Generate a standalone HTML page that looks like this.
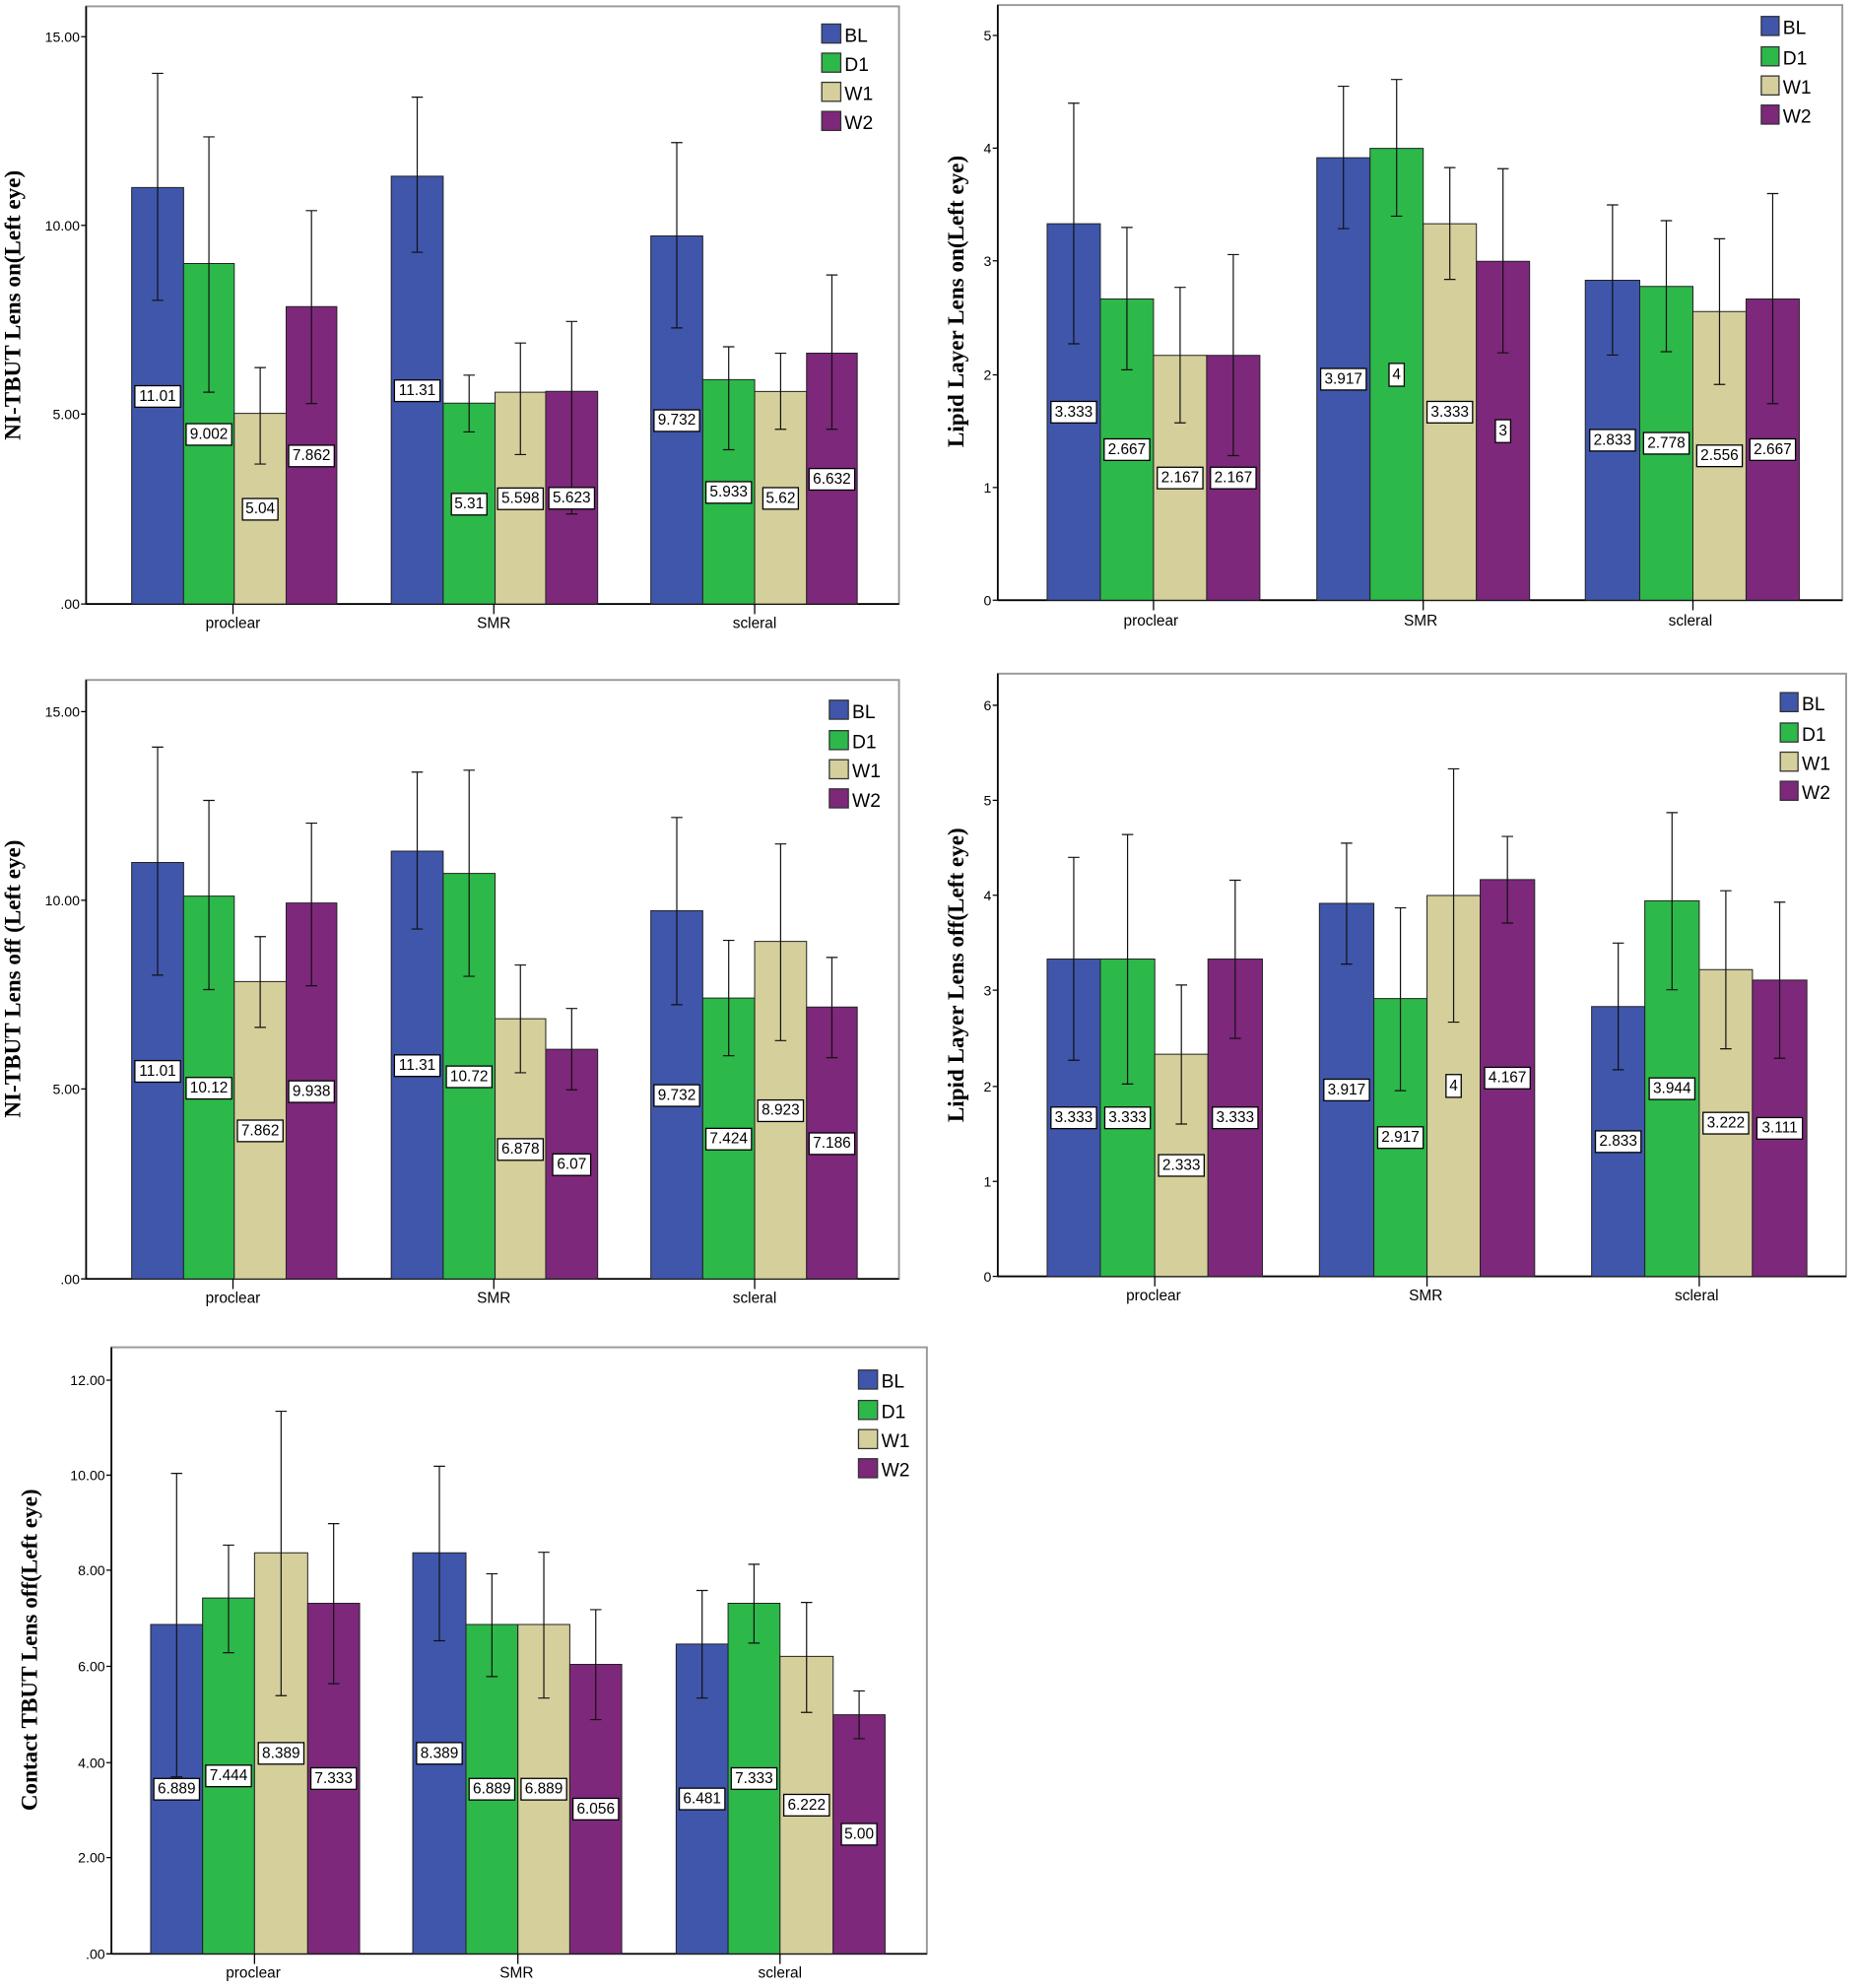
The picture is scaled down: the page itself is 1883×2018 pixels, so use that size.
<!DOCTYPE html>
<html><head><meta charset="utf-8"><style>
html,body{margin:0;padding:0;background:#fff}
svg{display:block}
.t{font-family:"Liberation Sans",sans-serif;font-size:11px;fill:#000}
.c{font-family:"Liberation Sans",sans-serif;font-size:12px;fill:#000;text-anchor:middle}
.lg{font-family:"Liberation Sans",sans-serif;font-size:15px;fill:#000}
.v{font-family:"Liberation Sans",sans-serif;font-size:12px;fill:#000;text-anchor:middle;dominant-baseline:central}
.yt{font-family:"Liberation Serif",serif;font-size:18px;font-weight:bold;fill:#000;text-anchor:middle}
.b1{fill:#3f56ab}.b2{fill:#2db84a}.b3{fill:#d5cf9b}.b4{fill:#7d287b}
.bars rect{stroke:#222;stroke-width:1;vector-effect:non-scaling-stroke}
.eb{stroke:#111;stroke-width:1.2;fill:none;vector-effect:non-scaling-stroke}
.lb{fill:#fff;stroke:#000;stroke-width:1}
.fr{fill:none;stroke:#999;stroke-width:1.5}
.ax{stroke:#000;stroke-width:1.3}
</style></head><body>
<svg width="1883" height="2018" viewBox="0 0 1465 1570" preserveAspectRatio="none" xmlns="http://www.w3.org/2000/svg">

<!-- CHART 1 -->
<rect class="fr" x="68" y="5" width="642" height="472"/>
<line class="ax" x1="68" y1="5" x2="68" y2="477"/><line class="ax" x1="68" y1="477" x2="710" y2="477"/>
<g class="t" text-anchor="end"><text x="63" y="33">15.00</text><text x="63" y="182">10.00</text><text x="63" y="331">5.00</text><text x="63" y="481">.00</text></g>
<path d="M64 29H68M64 178H68M64 327H68M64 477H68" stroke="#000"/>
<g class="bars" transform="translate(0,477) scale(1,-29.87)">
<rect class="b1" x="104" y="0" width="41" height="11.01"/><rect class="b2" x="145" y="0" width="40" height="9.002"/><rect class="b3" x="185" y="0" width="41" height="5.04"/><rect class="b4" x="226" y="0" width="40" height="7.862"/>
<rect class="b1" x="309" y="0" width="41" height="11.31"/><rect class="b2" x="350" y="0" width="41" height="5.31"/><rect class="b3" x="391" y="0" width="40" height="5.598"/><rect class="b4" x="431" y="0" width="41" height="5.623"/>
<rect class="b1" x="514" y="0" width="41" height="9.732"/><rect class="b2" x="555" y="0" width="41" height="5.933"/><rect class="b3" x="596" y="0" width="41" height="5.62"/><rect class="b4" x="637" y="0" width="40" height="6.632"/>
<path class="eb" d="M124.5 8.03V14.03M120 14.03H129M120 8.03H129 M165 5.6V12.35M160.5 12.35H169.5M160.5 5.6H169.5 M205.5 3.7V6.25M201 6.25H210M201 3.7H210 M246 5.3V10.4M241.5 10.4H250.5M241.5 5.3H250.5
M329.5 9.3V13.4M325 13.4H334M325 9.3H334 M370.5 4.55V6.05M366 6.05H375M366 4.55H375 M411 3.95V6.9M406.5 6.9H415.5M406.5 3.95H415.5 M451.5 2.38V7.47M447 7.47H456M447 2.38H456
M534.5 7.3V12.2M530 12.2H539M530 7.3H539 M575.5 4.08V6.8M571 6.8H580M571 4.08H580 M616.5 4.62V6.63M612 6.63H621M612 4.62H621 M657 4.62V8.7M652.5 8.7H661.5M652.5 4.62H661.5"/>
</g>
<path d="M184 477V485M390 477V485M596 477V485" stroke="#000"/>
<g class="c"><text x="184" y="496">proclear</text><text x="390" y="496">SMR</text><text x="596" y="496">scleral</text></g>
<g><rect class="lb" x="106.5" y="304.6" width="36" height="17"/><text class="v" x="124.5" y="313">11.01</text>
<rect class="lb" x="147" y="334.6" width="36" height="17"/><text class="v" x="165" y="343">9.002</text>
<rect class="lb" x="191.5" y="393.7" width="28" height="17"/><text class="v" x="205.5" y="402">5.04</text>
<rect class="lb" x="228" y="351.6" width="36" height="17"/><text class="v" x="246" y="360">7.862</text>
<rect class="lb" x="311.5" y="300.1" width="36" height="17"/><text class="v" x="329.5" y="308.5">11.31</text>
<rect class="lb" x="356.5" y="389.7" width="28" height="17"/><text class="v" x="370.5" y="398">5.31</text>
<rect class="lb" x="393" y="385.4" width="36" height="17"/><text class="v" x="411" y="393.8">5.598</text>
<rect class="lb" x="433.5" y="385" width="36" height="17"/><text class="v" x="451.5" y="393.4">5.623</text>
<rect class="lb" x="516.5" y="323.7" width="36" height="17"/><text class="v" x="534.5" y="332">9.732</text>
<rect class="lb" x="557.5" y="380.4" width="36" height="17"/><text class="v" x="575.5" y="388.8">5.933</text>
<rect class="lb" x="602.5" y="385.1" width="28" height="17"/><text class="v" x="616.5" y="393.5">5.62</text>
<rect class="lb" x="639" y="370" width="36" height="17"/><text class="v" x="657" y="378.4">6.632</text></g>
<g stroke="#333"><rect class="b1" x="649" y="19" width="15" height="15"/><rect class="b2" x="649" y="42" width="15" height="15"/><rect class="b3" x="649" y="65" width="15" height="15"/><rect class="b4" x="649" y="88" width="15" height="15"/></g>
<g class="lg"><text x="667" y="33">BL</text><text x="667" y="56">D1</text><text x="667" y="79">W1</text><text x="667" y="102">W2</text></g>
<text class="yt" transform="translate(16,241) rotate(-90)">NI-TBUT Lens on(Left eye)</text>

<!-- CHART 2 -->
<rect class="fr" x="788" y="4" width="667" height="470"/>
<line class="ax" x1="788" y1="4" x2="788" y2="474"/><line class="ax" x1="788" y1="474" x2="1455" y2="474"/>
<g class="t" text-anchor="end"><text x="783" y="32">5</text><text x="783" y="121">4</text><text x="783" y="210">3</text><text x="783" y="300">2</text><text x="783" y="389">1</text><text x="783" y="478">0</text></g>
<path d="M784 28H788M784 117H788M784 206H788M784 296H788M784 385H788M784 474H788" stroke="#000"/>
<g class="bars" transform="translate(0,474) scale(1,-89.2)">
<rect class="b1" x="827" y="0" width="42" height="3.333"/><rect class="b2" x="869" y="0" width="42" height="2.667"/><rect class="b3" x="911" y="0" width="42" height="2.167"/><rect class="b4" x="953" y="0" width="42" height="2.167"/>
<rect class="b1" x="1040" y="0" width="42" height="3.917"/><rect class="b2" x="1082" y="0" width="42" height="4"/><rect class="b3" x="1124" y="0" width="42" height="3.333"/><rect class="b4" x="1166" y="0" width="42" height="3"/>
<rect class="b1" x="1252" y="0" width="43" height="2.833"/><rect class="b2" x="1295" y="0" width="42" height="2.778"/><rect class="b3" x="1337" y="0" width="42" height="2.556"/><rect class="b4" x="1379" y="0" width="42" height="2.667"/>
<path class="eb" d="M848 2.27V4.40M843.5 4.40H852.5M843.5 2.27H852.5 M890 2.04V3.30M885.5 3.30H894.5M885.5 2.04H894.5 M932 1.57V2.77M927.5 2.77H936.5M927.5 1.57H936.5 M974 1.28V3.06M969.5 3.06H978.5M969.5 1.28H978.5
M1061 3.29V4.55M1056.5 4.55H1065.5M1056.5 3.29H1065.5 M1103 3.40V4.61M1098.5 4.61H1107.5M1098.5 3.40H1107.5 M1145 2.84V3.83M1140.5 3.83H1149.5M1140.5 2.84H1149.5 M1187 2.19V3.82M1182.5 3.82H1191.5M1182.5 2.19H1191.5
M1273.5 2.17V3.50M1269 3.50H1278M1269 2.17H1278 M1316 2.20V3.36M1311.5 3.36H1320.5M1311.5 2.20H1320.5 M1358 1.91V3.20M1353.5 3.20H1362.5M1353.5 1.91H1362.5 M1400 1.74V3.60M1395.5 3.60H1404.5M1395.5 1.74H1404.5"/>
</g>
<path d="M911 474V482M1124 474V482M1337 474V482" stroke="#000"/>
<g class="c"><text x="909" y="494">proclear</text><text x="1122" y="494">SMR</text><text x="1335" y="494">scleral</text></g>
<g><rect class="lb" x="830" y="317" width="36" height="17"/><text class="v" x="848" y="325.5">3.333</text>
<rect class="lb" x="872" y="346.6" width="36" height="17"/><text class="v" x="890" y="355">2.667</text>
<rect class="lb" x="914" y="369" width="36" height="17"/><text class="v" x="932" y="377.4">2.167</text>
<rect class="lb" x="956" y="369" width="36" height="17"/><text class="v" x="974" y="377.4">2.167</text>
<rect class="lb" x="1043" y="291" width="36" height="17"/><text class="v" x="1061" y="299.4">3.917</text>
<rect class="lb" x="1097" y="287" width="12" height="18"/><text class="v" x="1103" y="296">4</text>
<rect class="lb" x="1127" y="317" width="36" height="17"/><text class="v" x="1145" y="325.5">3.333</text>
<rect class="lb" x="1181" y="331.5" width="12" height="18"/><text class="v" x="1187" y="340.5">3</text>
<rect class="lb" x="1255.5" y="339.2" width="36" height="17"/><text class="v" x="1273.5" y="347.6">2.833</text>
<rect class="lb" x="1298" y="341.6" width="36" height="17"/><text class="v" x="1316" y="350">2.778</text>
<rect class="lb" x="1340" y="351.5" width="36" height="17"/><text class="v" x="1358" y="360">2.556</text>
<rect class="lb" x="1382" y="346.6" width="36" height="17"/><text class="v" x="1400" y="355">2.667</text></g>
<g stroke="#333"><rect class="b1" x="1391" y="13" width="14" height="15"/><rect class="b2" x="1391" y="37" width="14" height="15"/><rect class="b3" x="1391" y="60" width="14" height="15"/><rect class="b4" x="1391" y="83" width="14" height="15"/></g>
<g class="lg"><text x="1408" y="27">BL</text><text x="1408" y="51">D1</text><text x="1408" y="74">W1</text><text x="1408" y="97">W2</text></g>
<text class="yt" transform="translate(761,238) rotate(-90)">Lipid Layer Lens on(Left eye)</text>

<!-- CHART 3 -->
<rect class="fr" x="68" y="537" width="642" height="473"/>
<line class="ax" x1="68" y1="537" x2="68" y2="1010"/><line class="ax" x1="68" y1="1010" x2="710" y2="1010"/>
<g class="t" text-anchor="end"><text x="63" y="566">15.00</text><text x="63" y="715">10.00</text><text x="63" y="864">5.00</text><text x="63" y="1014">.00</text></g>
<path d="M64 562H68M64 711H68M64 860H68M64 1010H68" stroke="#000"/>
<g class="bars" transform="translate(0,1010) scale(1,-29.87)">
<rect class="b1" x="104" y="0" width="41" height="11.01"/><rect class="b2" x="145" y="0" width="40" height="10.12"/><rect class="b3" x="185" y="0" width="41" height="7.862"/><rect class="b4" x="226" y="0" width="40" height="9.938"/>
<rect class="b1" x="309" y="0" width="41" height="11.31"/><rect class="b2" x="350" y="0" width="41" height="10.72"/><rect class="b3" x="391" y="0" width="40" height="6.878"/><rect class="b4" x="431" y="0" width="41" height="6.07"/>
<rect class="b1" x="514" y="0" width="41" height="9.732"/><rect class="b2" x="555" y="0" width="41" height="7.424"/><rect class="b3" x="596" y="0" width="41" height="8.923"/><rect class="b4" x="637" y="0" width="40" height="7.186"/>
<path class="eb" d="M124.5 8.03V14.06M120 14.06H129M120 8.03H129 M165 7.65V12.65M160.5 12.65H169.5M160.5 7.65H169.5 M205.5 6.65V9.05M201 9.05H210M201 6.65H210 M246 7.75V12.05M241.5 12.05H250.5M241.5 7.75H250.5
M329.5 9.25V13.4M325 13.4H334M325 9.25H334 M370.5 8.0V13.45M366 13.45H375M366 8.0H375 M411 5.45V8.3M406.5 8.3H415.5M406.5 5.45H415.5 M451.5 5.0V7.15M447 7.15H456M447 5.0H456
M534.5 7.25V12.2M530 12.2H539M530 7.25H539 M575.5 5.9V8.95M571 8.95H580M571 5.9H580 M616.5 6.3V11.5M612 11.5H621M612 6.3H621 M657 5.85V8.5M652.5 8.5H661.5M652.5 5.85H661.5"/>
</g>
<path d="M184 1010V1018M390 1010V1018M596 1010V1018" stroke="#000"/>
<g class="c"><text x="184" y="1029">proclear</text><text x="390" y="1029">SMR</text><text x="596" y="1029">scleral</text></g>
<g><rect class="lb" x="106.5" y="837.6" width="36" height="17"/><text class="v" x="124.5" y="846">11.01</text>
<rect class="lb" x="147" y="850.9" width="36" height="17"/><text class="v" x="165" y="859.3">10.12</text>
<rect class="lb" x="187.5" y="884.6" width="36" height="17"/><text class="v" x="205.5" y="893">7.862</text>
<rect class="lb" x="228" y="853.6" width="36" height="17"/><text class="v" x="246" y="862">9.938</text>
<rect class="lb" x="311.5" y="833.1" width="36" height="17"/><text class="v" x="329.5" y="841.5">11.31</text>
<rect class="lb" x="352.5" y="841.9" width="36" height="17"/><text class="v" x="370.5" y="850.3">10.72</text>
<rect class="lb" x="393" y="899.3" width="36" height="17"/><text class="v" x="411" y="907.7">6.878</text>
<rect class="lb" x="436.5" y="911.3" width="30" height="17"/><text class="v" x="451.5" y="919.7">6.07</text>
<rect class="lb" x="516.5" y="856.7" width="36" height="17"/><text class="v" x="534.5" y="865">9.732</text>
<rect class="lb" x="557.5" y="891.1" width="36" height="17"/><text class="v" x="575.5" y="899.5">7.424</text>
<rect class="lb" x="598.5" y="868.7" width="36" height="17"/><text class="v" x="616.5" y="877">8.923</text>
<rect class="lb" x="639" y="894.7" width="36" height="17"/><text class="v" x="657" y="903">7.186</text></g>
<g stroke="#333"><rect class="b1" x="655" y="553" width="15" height="15"/><rect class="b2" x="655" y="577" width="15" height="15"/><rect class="b3" x="655" y="600" width="15" height="15"/><rect class="b4" x="655" y="623" width="15" height="15"/></g>
<g class="lg"><text x="673" y="567">BL</text><text x="673" y="591">D1</text><text x="673" y="614">W1</text><text x="673" y="637">W2</text></g>
<text class="yt" transform="translate(16,773) rotate(-90)">NI-TBUT Lens off (Left eye)</text>

<!-- CHART 4 -->
<rect class="fr" x="788" y="532" width="670" height="476"/>
<line class="ax" x1="788" y1="532" x2="788" y2="1008"/><line class="ax" x1="788" y1="1008" x2="1458" y2="1008"/>
<g class="t" text-anchor="end"><text x="783" y="561">6</text><text x="783" y="636">5</text><text x="783" y="711">4</text><text x="783" y="786">3</text><text x="783" y="862">2</text><text x="783" y="937">1</text><text x="783" y="1012">0</text></g>
<path d="M784 557H788M784 632H788M784 707H788M784 782H788M784 858H788M784 933H788M784 1008H788" stroke="#000"/>
<g class="bars" transform="translate(0,1008) scale(1,-75.2)">
<rect class="b1" x="827" y="0" width="42" height="3.333"/><rect class="b2" x="869" y="0" width="43" height="3.333"/><rect class="b3" x="912" y="0" width="42" height="2.333"/><rect class="b4" x="954" y="0" width="43" height="3.333"/>
<rect class="b1" x="1042" y="0" width="43" height="3.917"/><rect class="b2" x="1085" y="0" width="42" height="2.917"/><rect class="b3" x="1127" y="0" width="42" height="4"/><rect class="b4" x="1169" y="0" width="43" height="4.167"/>
<rect class="b1" x="1257" y="0" width="42" height="2.833"/><rect class="b2" x="1299" y="0" width="43" height="3.944"/><rect class="b3" x="1342" y="0" width="42" height="3.222"/><rect class="b4" x="1384" y="0" width="43" height="3.111"/>
<path class="eb" d="M848 2.27V4.4M843.5 4.4H852.5M843.5 2.27H852.5 M890.5 2.02V4.64M886 4.64H895M886 2.02H895 M933 1.6V3.06M928.5 3.06H937.5M928.5 1.6H937.5 M975.5 2.5V4.16M971 4.16H980M971 2.5H980
M1063.5 3.28V4.55M1059 4.55H1068M1059 3.28H1068 M1106 1.95V3.87M1101.5 3.87H1110.5M1101.5 1.95H1110.5 M1148 2.67V5.33M1143.5 5.33H1152.5M1143.5 2.67H1152.5 M1190.5 3.71V4.62M1186 4.62H1195M1186 3.71H1195
M1278 2.17V3.5M1273.5 3.5H1282.5M1273.5 2.17H1282.5 M1320.5 3.01V4.87M1316 4.87H1325M1316 3.01H1325 M1363 2.39V4.05M1358.5 4.05H1367.5M1358.5 2.39H1367.5 M1405.5 2.29V3.93M1401 3.93H1410M1401 2.29H1410"/>
</g>
<path d="M912 1008V1016M1127 1008V1016M1342 1008V1016" stroke="#000"/>
<g class="c"><text x="911" y="1027">proclear</text><text x="1126" y="1027">SMR</text><text x="1340" y="1027">scleral</text></g>
<g><rect class="lb" x="830" y="874.3" width="36" height="17"/><text class="v" x="848" y="882.7">3.333</text>
<rect class="lb" x="872.5" y="874.3" width="36" height="17"/><text class="v" x="890.5" y="882.7">3.333</text>
<rect class="lb" x="915" y="911.9" width="36" height="17"/><text class="v" x="933" y="920.3">2.333</text>
<rect class="lb" x="957.5" y="874.3" width="36" height="17"/><text class="v" x="975.5" y="882.7">3.333</text>
<rect class="lb" x="1045.5" y="852.3" width="36" height="17"/><text class="v" x="1063.5" y="860.7">3.917</text>
<rect class="lb" x="1088" y="889.9" width="36" height="17"/><text class="v" x="1106" y="898.3">2.917</text>
<rect class="lb" x="1142" y="848.6" width="12" height="18"/><text class="v" x="1148" y="857.6">4</text>
<rect class="lb" x="1172.5" y="842.9" width="36" height="17"/><text class="v" x="1190.5" y="851.3">4.167</text>
<rect class="lb" x="1260" y="893.1" width="36" height="17"/><text class="v" x="1278" y="901.5">2.833</text>
<rect class="lb" x="1302.5" y="851.3" width="36" height="17"/><text class="v" x="1320.5" y="859.7">3.944</text>
<rect class="lb" x="1345" y="878.5" width="36" height="17"/><text class="v" x="1363" y="886.9">3.222</text>
<rect class="lb" x="1387.5" y="882.6" width="36" height="17"/><text class="v" x="1405.5" y="891">3.111</text></g>
<g stroke="#333"><rect class="b1" x="1406" y="547" width="14" height="15"/><rect class="b2" x="1406" y="571" width="14" height="15"/><rect class="b3" x="1406" y="594" width="14" height="15"/><rect class="b4" x="1406" y="617" width="14" height="15"/></g>
<g class="lg"><text x="1423" y="561">BL</text><text x="1423" y="585">D1</text><text x="1423" y="608">W1</text><text x="1423" y="631">W2</text></g>
<text class="yt" transform="translate(761,770) rotate(-90)">Lipid Layer Lens off(Left eye)</text>

<!-- CHART 5 -->
<rect class="fr" x="88" y="1064" width="644" height="479"/>
<line class="ax" x1="88" y1="1064" x2="88" y2="1543"/><line class="ax" x1="88" y1="1543" x2="732" y2="1543"/>
<g class="t" text-anchor="end"><text x="83" y="1094">12.00</text><text x="83" y="1169">10.00</text><text x="83" y="1244">8.00</text><text x="83" y="1320">6.00</text><text x="83" y="1396">4.00</text><text x="83" y="1471">2.00</text><text x="83" y="1547">.00</text></g>
<path d="M84 1090H88M84 1165H88M84 1240H88M84 1316H88M84 1392H88M84 1467H88M84 1543H88" stroke="#000"/>
<g class="bars" transform="translate(0,1543) scale(1,-37.75)">
<rect class="b1" x="119" y="0" width="41" height="6.889"/><rect class="b2" x="160" y="0" width="41" height="7.444"/><rect class="b3" x="201" y="0" width="42" height="8.389"/><rect class="b4" x="243" y="0" width="41" height="7.333"/>
<rect class="b1" x="326" y="0" width="42" height="8.389"/><rect class="b2" x="368" y="0" width="41" height="6.889"/><rect class="b3" x="409" y="0" width="41" height="6.889"/><rect class="b4" x="450" y="0" width="41" height="6.056"/>
<rect class="b1" x="534" y="0" width="41" height="6.481"/><rect class="b2" x="575" y="0" width="41" height="7.333"/><rect class="b3" x="616" y="0" width="42" height="6.222"/><rect class="b4" x="658" y="0" width="41" height="5.0"/>
<path class="eb" d="M139.5 3.7V10.05M135 10.05H144M135 3.7H144 M180.5 6.3V8.55M176 8.55H185M176 6.3H185 M222 5.4V11.35M217.5 11.35H226.5M217.5 5.4H226.5 M263.5 5.65V9.0M259 9.0H268M259 5.65H268
M347 6.55V10.2M342.5 10.2H351.5M342.5 6.55H351.5 M388.5 5.8V7.95M384 7.95H393M384 5.8H393 M429.5 5.35V8.4M425 8.4H434M425 5.35H434 M470.5 4.9V7.2M466 7.2H475M466 4.9H475
M554.5 5.35V7.6M550 7.6H559M550 5.35H559 M595.5 6.5V8.15M591 8.15H600M591 6.5H600 M637 5.05V7.35M632.5 7.35H641.5M632.5 5.05H641.5 M678.5 4.5V5.5M674 5.5H683M674 4.5H683"/>
</g>
<path d="M201 1543V1551M409 1543V1551M616 1543V1551" stroke="#000"/>
<g class="c"><text x="200" y="1562">proclear</text><text x="408" y="1562">SMR</text><text x="616" y="1562">scleral</text></g>
<g><rect class="lb" x="121.5" y="1404.5" width="36" height="17"/><text class="v" x="139.5" y="1413">6.889</text>
<rect class="lb" x="162.5" y="1394" width="36" height="17"/><text class="v" x="180.5" y="1402.5">7.444</text>
<rect class="lb" x="204" y="1376.2" width="36" height="17"/><text class="v" x="222" y="1384.7">8.389</text>
<rect class="lb" x="245.5" y="1396.1" width="36" height="17"/><text class="v" x="263.5" y="1404.6">7.333</text>
<rect class="lb" x="329" y="1376.2" width="36" height="17"/><text class="v" x="347" y="1384.7">8.389</text>
<rect class="lb" x="370.5" y="1404.5" width="36" height="17"/><text class="v" x="388.5" y="1413">6.889</text>
<rect class="lb" x="411.5" y="1404.5" width="36" height="17"/><text class="v" x="429.5" y="1413">6.889</text>
<rect class="lb" x="452.5" y="1420.2" width="36" height="17"/><text class="v" x="470.5" y="1428.7">6.056</text>
<rect class="lb" x="536.5" y="1412.2" width="36" height="17"/><text class="v" x="554.5" y="1420.7">6.481</text>
<rect class="lb" x="577.5" y="1396.1" width="36" height="17"/><text class="v" x="595.5" y="1404.6">7.333</text>
<rect class="lb" x="619" y="1417.1" width="36" height="17"/><text class="v" x="637" y="1425.6">6.222</text>
<rect class="lb" x="664.5" y="1440.1" width="28" height="17"/><text class="v" x="678.5" y="1448.6">5.00</text></g>
<g stroke="#333"><rect class="b1" x="678" y="1082" width="15" height="15"/><rect class="b2" x="678" y="1106" width="15" height="15"/><rect class="b3" x="678" y="1129" width="15" height="15"/><rect class="b4" x="678" y="1152" width="15" height="15"/></g>
<g class="lg"><text x="696" y="1096">BL</text><text x="696" y="1120">D1</text><text x="696" y="1143">W1</text><text x="696" y="1166">W2</text></g>
<text class="yt" transform="translate(29,1303) rotate(-90)">Contact TBUT Lens off(Left eye)</text>
</svg>
</body></html>
